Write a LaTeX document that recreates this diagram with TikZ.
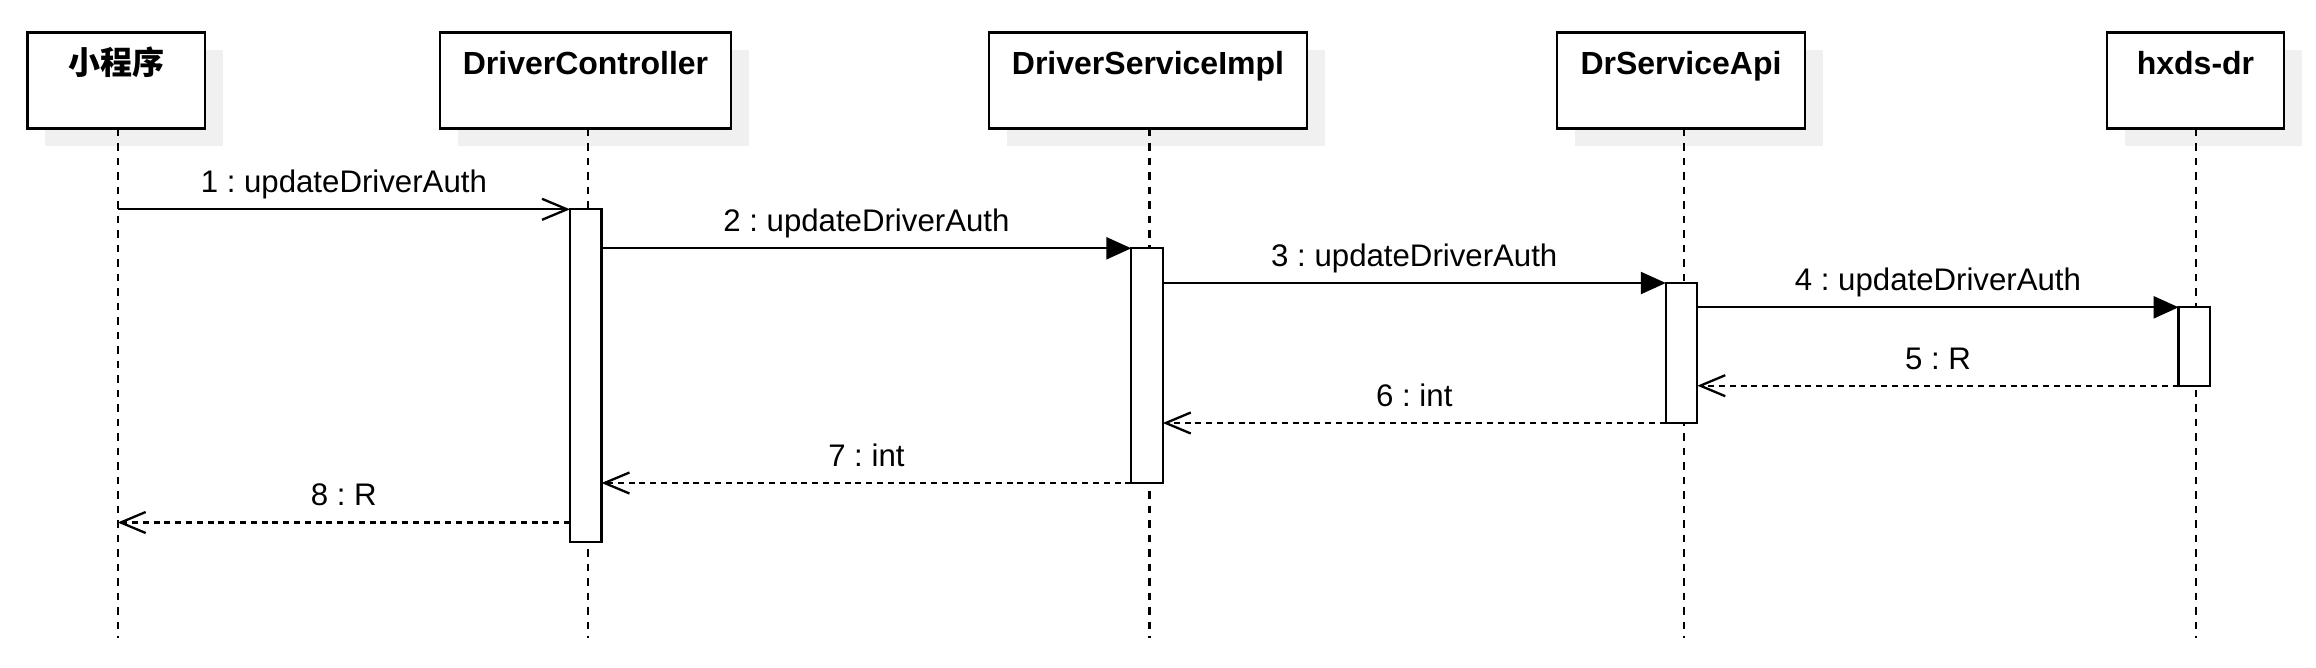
\documentclass[tikz,border=0pt]{standalone}
\usepackage{fontspec}
\setmainfont{Liberation Sans}
\newfontfamily\cjk{Noto Sans CJK SC}
\usetikzlibrary{arrows.meta,calc}
\definecolor{shadowc}{HTML}{F0F0F0}
\frenchspacing
\begin{document}
\frenchspacing
\begin{tikzpicture}[x=1pt,y=-1pt,
  head/.style={draw=black, line width=2.6pt, fill=white, minimum height=96pt,
    inner sep=0pt, outer sep=0pt, anchor=north west,
    text height=41.5pt, text depth=54.5pt,
    font=\fontsize{32}{38}\selectfont\bfseries,
    preaction={fill=shadowc, transform canvas={xshift=17.5pt,yshift=-17pt}}},
  lifeline/.style={line width=2.2pt, dash pattern=on 7.5pt off 7pt},
  act/.style={draw=black, line width=2.3pt, fill=white, inner sep=0pt, outer sep=0pt,
    minimum width=31.5pt, anchor=north west},
  call/.style={line width=2.3pt, -{Triangle[length=25pt,width=22pt]}},
  opencall/.style={line width=2.3pt, -{Straight Barb[length=25pt,width=21pt]}},
  ret/.style={line width=2.3pt, dash pattern=on 6pt off 4.8pt, -{Straight Barb[length=25pt,width=21pt]}},
  lbl/.style={anchor=base, inner sep=0pt, font=\fontsize{31.2}{37}\selectfont\frenchspacing}]
\useasboundingbox (0,0) rectangle (2316,667);

% headers
\node[head, minimum width=177.3pt] (b1) at (27.7,32.5) {\cjk\bfseries 小程序};
\node[head, minimum width=291pt] (b2) at (440,32.5) {DriverController};
\node[head, minimum width=318pt] (b3) at (989,32.5) {DriverServiceImpl};
\node[head, minimum width=248pt] (b4) at (1557,32.5) {DrServiceApi};
\node[head, minimum width=177pt] (b5) at (2107,32.5) {hxds-dr};

% lifelines
\coordinate (t1) at (117.7,128.5); \coordinate (e1) at (117.7,638);
\coordinate (t2) at (588.3,128.5); \coordinate (e2) at (588.3,638);
\coordinate (t3) at (1149.4,128.5); \coordinate (e3) at (1149.4,638);
\coordinate (t4) at (1684,128.5); \coordinate (e4) at (1684,638);
\coordinate (t5) at (2196,128.5); \coordinate (e5) at (2196,638);
\foreach \i in {1,...,5} { \draw[lifeline] (t\i) -- (e\i); }

% activations
\node[act, minimum height=333pt] (a2) at (570,209.3) {};
\node[act, minimum height=234.7pt] (a3) at (1131.3,248.3) {};
\node[act, minimum height=140pt] (a4) at (1665.8,283) {};
\node[act, minimum height=78.4pt] (a5) at (2178.6,307.3) {};

% message end points
\coordinate (m1s) at (a2.north west -| t1);
\coordinate (m2s) at (a3.north west -| a2.east);
\coordinate (m3s) at (a4.north west -| a3.east);
\coordinate (m4s) at (a5.north west -| a4.east);
\coordinate (m5e) at (a5.south west -| a4.east);
\coordinate (m6e) at (a4.south west -| a3.east);
\coordinate (m7e) at (a3.south west -| a2.east);
\coordinate (m8s) at (570,522.5);
\coordinate (m8e) at (m8s -| t1);

% messages
\draw[opencall] (m1s) -- (a2.north west);
\draw[call] (m2s) -- (a3.north west);
\draw[call] (m3s) -- (a4.north west);
\draw[call] (m4s) -- (a5.north west);
\draw[ret] (a5.south west) -- (m5e);
\draw[ret] (a4.south west) -- (m6e);
\draw[ret] (a3.south west) -- (m7e);
\draw[ret] (m8s) -- (m8e);

% labels
\node[lbl] (l1) at ($(m1s)!0.5!(a2.north west)+(0,-16.5)$) {1 : updateDriverAuth};
\node[lbl] (l2) at ($(m2s)!0.5!(a3.north west)+(0,-16.5)$) {2 : updateDriverAuth};
\node[lbl] (l3) at ($(m3s)!0.5!(a4.north west)+(0,-16.5)$) {3 : updateDriverAuth};
\node[lbl] (l4) at ($(m4s)!0.5!(a5.north west)+(0,-16.5)$) {4 : updateDriverAuth};
\node[lbl] (l5) at ($(a5.south west)!0.5!(m5e)+(0,-16.5)$) {5 : R};
\node[lbl] (l6) at ($(a4.south west)!0.5!(m6e)+(0,-16.5)$) {6 : int};
\node[lbl] (l7) at ($(a3.south west)!0.5!(m7e)+(0,-16.5)$) {7 : int};
\node[lbl] (l8) at ($(m8s)!0.5!(m8e)+(0,-17)$) {8 : R};
\end{tikzpicture}
\end{document}
